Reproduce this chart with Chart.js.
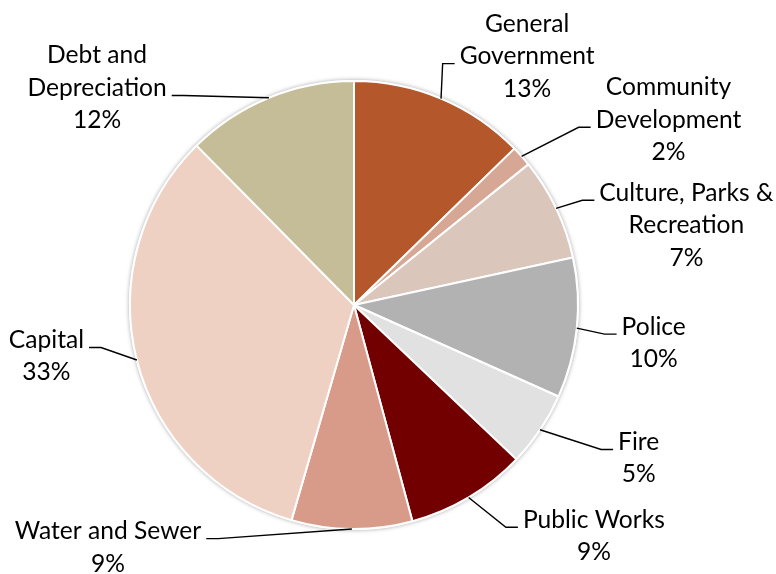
<!DOCTYPE html>
<html><head><meta charset="utf-8">
<script src="https://cdn.jsdelivr.net/npm/chart.js@4"></script>
<style>html,body{margin:0;padding:0;background:#fff}canvas{display:block}</style>
</head><body>
<canvas id="c" width="776" height="574"></canvas>
<script>
const categories = [
  ['General', 'Government'],
  ['Community', 'Development'],
  ['Culture, Parks &', 'Recreation'],
  ['Police'],
  ['Fire'],
  ['Public Works'],
  ['Water and Sewer'],
  ['Capital'],
  ['Debt and', 'Depreciation']
];
const values = [12.7, 1.5, 7.4, 10.1, 5.4, 8.7, 8.7, 33.1, 12.4];
const colors = ['#B4582C', '#D6A794', '#DBC6BC', '#B2B2B2', '#E1E1E1', '#720000', '#D89B8A', '#EFD1C4', '#C4BD98'];
// label block centre, relative to pie centre in units of the radius
const labelOffsets = [[0.773,-1.111],[1.404,-0.827],[1.484,-0.356],[1.338,0.169],[1.271,0.684],[1.071,1.031],[-1.098,1.082],[-1.373,0.229],[-1.147,-0.969]];
const attachLine = [1, 1, 0, 0, 0, 0, 0, 0, 1];

const FONT = '24.6px Lato';
const LH = 32.5;

const outsideLabels = {
  id: 'outsideLabels',
  beforeDatasetsDraw(chart) {
    const ctx = chart.ctx;
    const a = chart.getDatasetMeta(0).data[0];
    const {x, y, outerRadius} = a.getProps(['x', 'y', 'outerRadius'], true);
    ctx.save();
    ctx.beginPath();
    ctx.arc(x, y, outerRadius + 1, 0, Math.PI * 2);
    ctx.fillStyle = '#fff';
    ctx.shadowColor = 'rgba(0,0,0,0.35)';
    ctx.shadowBlur = 4;
    ctx.fill();
    ctx.restore();
  },
  afterDatasetsDraw(chart) {
    const ctx = chart.ctx;
    const ds = chart.data.datasets[0].data;
    const total = ds.reduce((s, v) => s + v, 0);
    ctx.save();
    ctx.font = FONT;
    ctx.fillStyle = '#000';
    ctx.strokeStyle = '#000';
    ctx.lineWidth = 1.4;
    ctx.textAlign = 'center';
    ctx.textBaseline = 'middle';
    chart.getDatasetMeta(0).data.forEach((arc, i) => {
      const {x, y, startAngle, endAngle, outerRadius} = arc.getProps(['x', 'y', 'startAngle', 'endAngle', 'outerRadius'], true);
      const mid = (startAngle + endAngle) / 2;
      const px = x + Math.cos(mid) * outerRadius;
      const py = y + Math.sin(mid) * outerRadius;
      const cx = x + labelOffsets[i][0] * outerRadius;
      const cy = y + labelOffsets[i][1] * outerRadius;
      const lines = categories[i].concat([Math.round(ds[i] / total * 100) + '%']);
      const n = lines.length;
      lines.forEach((t, j) => ctx.fillText(t, cx, cy + (j - (n - 1) / 2) * LH));
      const ai = attachLine[i];
      const ly = cy + (ai - (n - 1) / 2) * LH + 7.5;
      const w = ctx.measureText(lines[ai]).width;
      let ex, bx;
      if (labelOffsets[i][0] > 0) { ex = cx - w / 2 - 5; bx = ex - 12; }
      else { ex = cx + w / 2 + 5; bx = ex + 12; }
      ctx.beginPath();
      ctx.moveTo(px, py);
      ctx.lineTo(bx, ly);
      ctx.lineTo(ex, ly);
      ctx.stroke();
    });
    ctx.restore();
  }
};

new Chart(document.getElementById('c'), {
  type: 'pie',
  data: {
    labels: categories,
    datasets: [{
      data: values,
      backgroundColor: colors,
      borderColor: '#fff',
      borderWidth: 2,
      hoverOffset: 0
    }]
  },
  options: {
    responsive: false,
    animation: false,
    layout: {padding: {left: 129, right: 197, top: 80, bottom: 44}},
    plugins: {legend: {display: false}, tooltip: {enabled: false}}
  },
  plugins: [outsideLabels]
});
</script>
</body></html>
